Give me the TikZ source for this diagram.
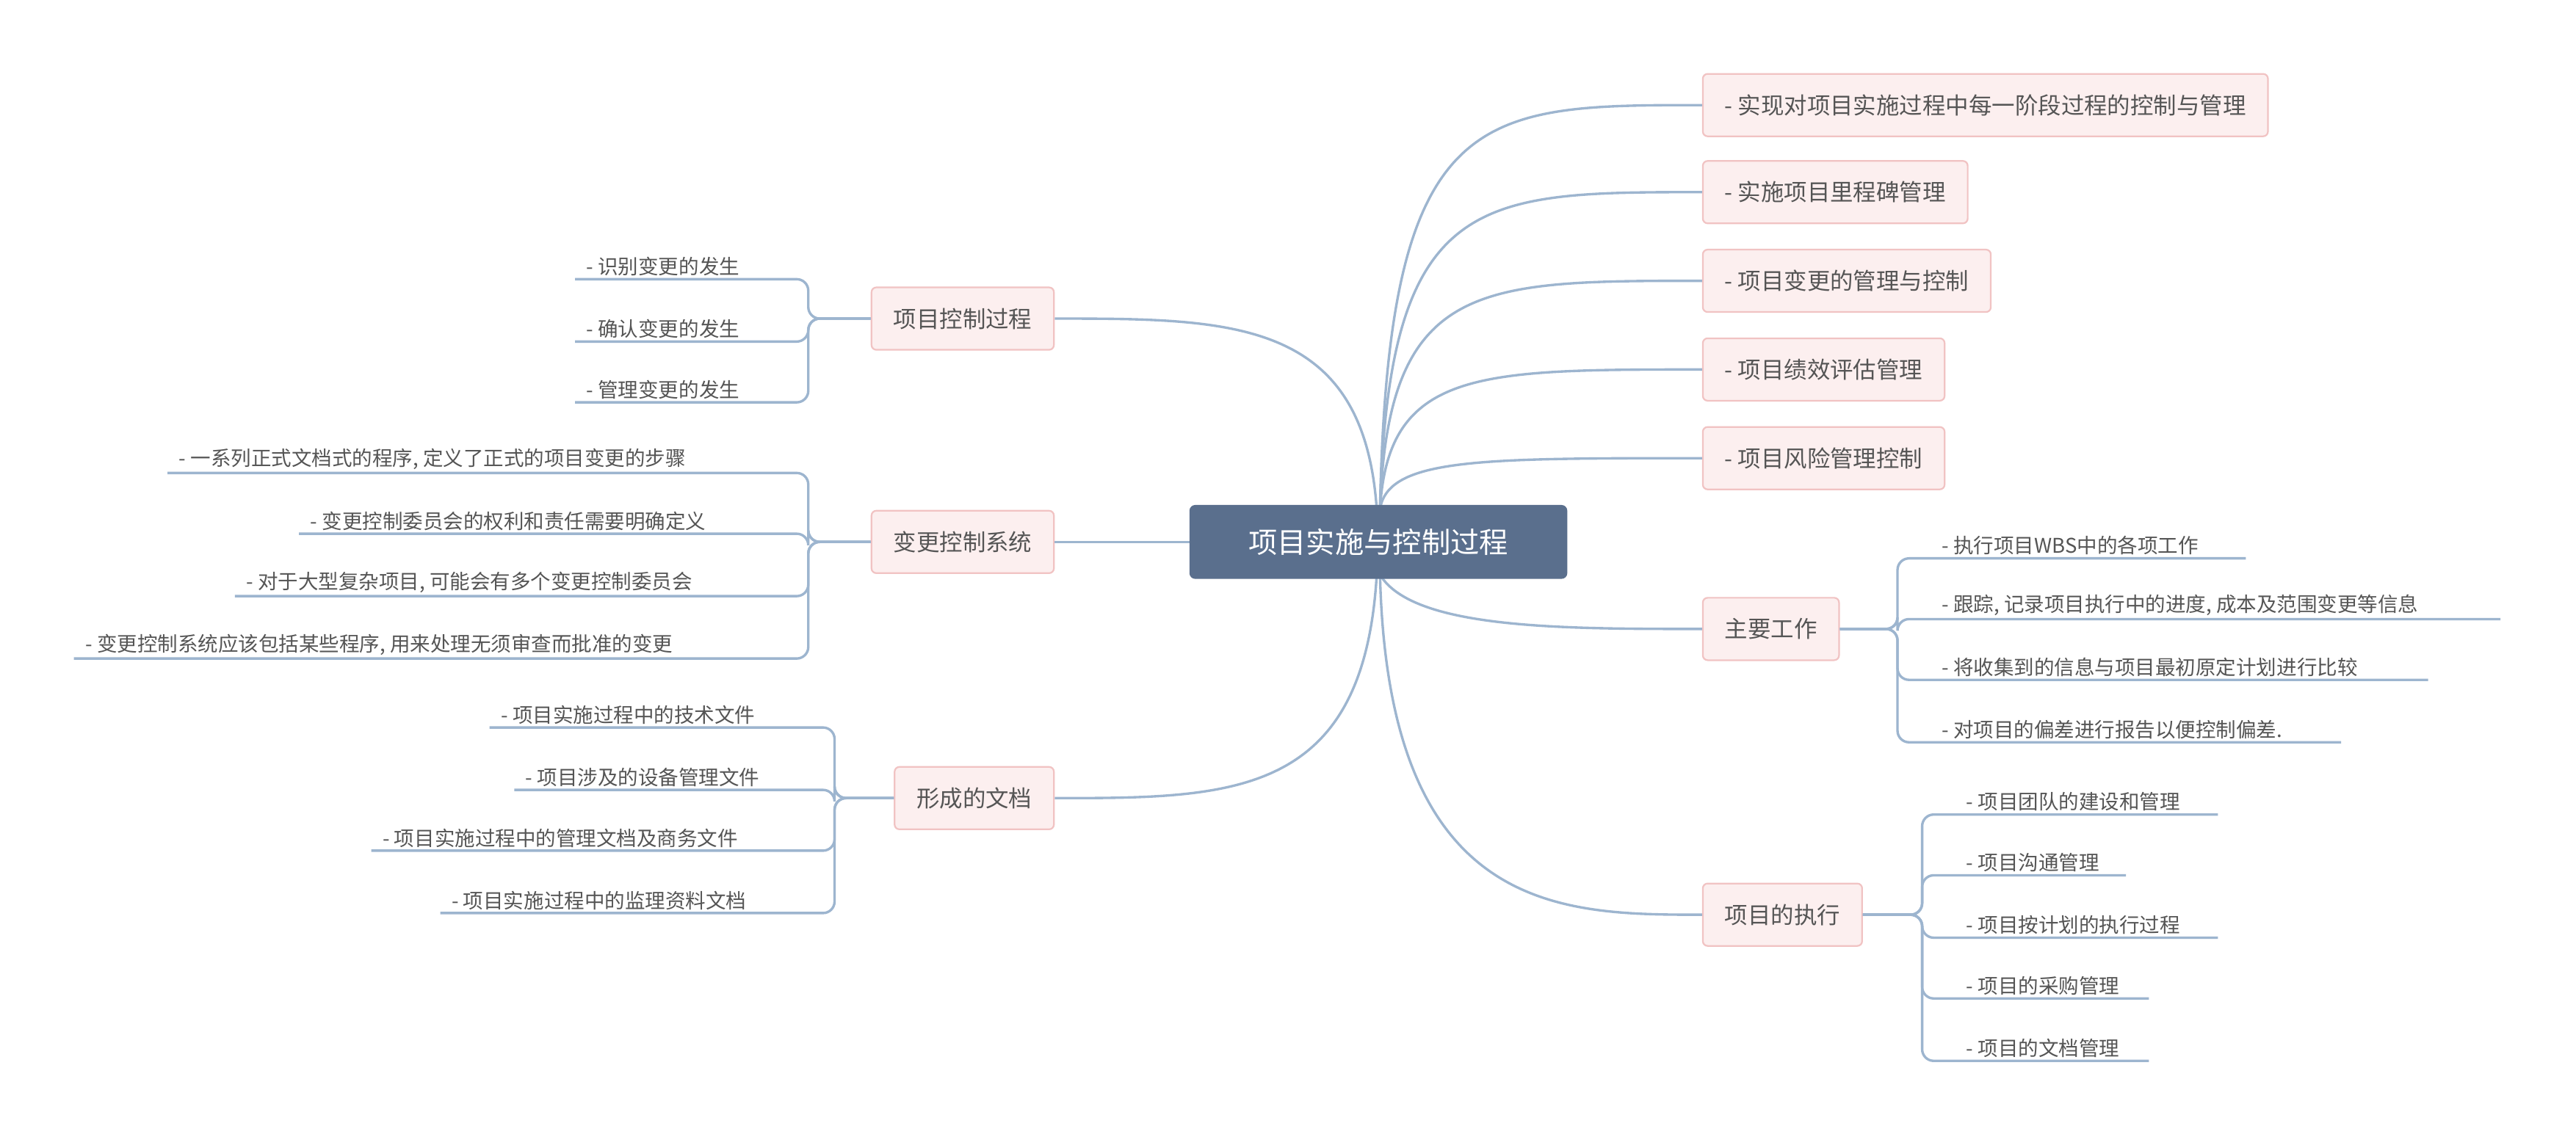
\documentclass[tikz,border=0pt]{standalone}
\usepackage{fontspec}
\setmainfont{Noto Sans CJK SC}
\definecolor{hub}{HTML}{5A6F8D}
\definecolor{wire}{HTML}{9DB5CF}
\definecolor{pinkfill}{HTML}{FCEFEF}
\definecolor{pinkline}{HTML}{F1C3C3}
\definecolor{ink}{HTML}{555555}
\tikzset{
  link/.style={draw=wire,line width=0.45mm},
  topic/.style={rectangle,rounded corners=2.5pt,fill=pinkfill,draw=pinkline,line width=0.3mm,
    text=ink,font=\fontsize{12}{14}\selectfont,minimum height=11.4mm,inner xsep=4mm},
  leaf/.style={text=ink,font=\fontsize{10.5}{12}\selectfont,inner sep=1.5pt,anchor=south west}
}
\begin{document}
\begin{tikzpicture}[x=0.3mm,y=-0.3mm]
\useasboundingbox[fill=white] (0,0) rectangle (1568,692);
\node[topic,anchor=west] (t1) at (1036,64) {- 实现对项目实施过程中每一阶段过程的控制与管理};
\node[topic,anchor=west] (t2) at (1036,117) {- 实施项目里程碑管理};
\node[topic,anchor=west] (t3) at (1036,171) {- 项目变更的管理与控制};
\node[topic,anchor=west] (t4) at (1036,225) {- 项目绩效评估管理};
\node[topic,anchor=west] (t5) at (1036,279) {- 项目风险管理控制};
\node[topic,anchor=west] (work) at (1036,383) {主要工作};
\node[topic,anchor=west] (exec) at (1036,557) {项目的执行};
\node[topic,anchor=east] (ctrl) at (642,194) {项目控制过程};
\node[topic,anchor=east] (sys) at (642,330) {变更控制系统};
\node[topic,anchor=east] (docs) at (642,486) {形成的文档};
\foreach \n/\y in {t1/64,t2/117,t3/171,t4/225,t5/279}
  \draw[link] (840,310) .. controls (845,\y) and (900,\y) .. (\n.west);
\draw[link] (840,350) .. controls (860,383) and (950,383) .. (work.west);
\draw[link] (840,350) .. controls (845,557) and (950,557) .. (exec.west);
\draw[link] (838,310) .. controls (830,194) and (750,194) .. (ctrl.east);
\draw[link] (760,330) -- (sys.east);
\draw[link] (838,350) .. controls (830,486) and (750,486) .. (docs.east);
\node[rectangle,rounded corners=3pt,fill=hub,text=white,font=\fontsize{15}{18}\selectfont,
  minimum width=69mm,minimum height=13.5mm] (hub) at (839,330) {项目实施与控制过程};
\foreach \y/\e/\t in {340/1367/{- 执行项目WBS中的各项工作},
    377/1522/{- 跟踪, 记录项目执行中的进度, 成本及范围变更等信息},
    414/1478/{- 将收集到的信息与项目最初原定计划进行比较},
    452/1425/{- 对项目的偏差进行报告以便控制偏差.}} {
  \draw[link,rounded corners=6] (work.east) -- (1155,383) |- (1175,\y) -- (\e,\y);
  \node[leaf] (w\y) at (1180,\y) {\t};
}
\foreach \y/\e/\t in {496/1350/{- 项目团队的建设和管理},533/1294/{- 项目沟通管理},
    571/1350/{- 项目按计划的执行过程},608/1308/{- 项目的采购管理},646/1308/{- 项目的文档管理}} {
  \draw[link,rounded corners=6] (exec.east) -- (1170,557) |- (1190,\y) -- (\e,\y);
  \node[leaf] (e\y) at (1195,\y) {\t};
}
\foreach \y/\s/\t in {170/350/{- 识别变更的发生},208/350/{- 确认变更的发生},245/350/{- 管理变更的发生}} {
  \draw[link,rounded corners=6] (ctrl.west) -- (492,194) |- (472,\y) -- (\s,\y);
  \node[leaf] (c\y) at (\s+5,\y) {\t};
}
\foreach \y/\s/\t in {288/102/{- 一系列正式文档式的程序, 定义了正式的项目变更的步骤},
    325/182/{- 变更控制委员会的权利和责任需要明确定义},
    363/143/{- 对于大型复杂项目, 可能会有多个变更控制委员会},
    401/45/{- 变更控制系统应该包括某些程序, 用来处理无须审查而批准的变更}} {
  \draw[link,rounded corners=6] (sys.west) -- (492,330) |- (472,\y) -- (\s,\y);
  \node[leaf] (s\y) at (\s+5,\y) {\t};
}
\foreach \y/\s/\t in {443/298/{- 项目实施过程中的技术文件},481/313/{- 项目涉及的设备管理文件},
    518/226/{- 项目实施过程中的管理文档及商务文件},556/268/{- 项目实施过程中的监理资料文档}} {
  \draw[link,rounded corners=6] (docs.west) -- (508,486) |- (488,\y) -- (\s,\y);
  \node[leaf] (d\y) at (\s+5,\y) {\t};
}
\end{tikzpicture}
\end{document}
